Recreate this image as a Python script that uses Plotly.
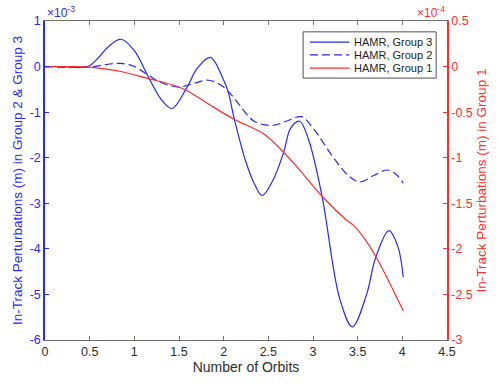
import plotly.graph_objects as go

# Orbit count for each sampled point
orbits_g3 = [0, 0.2, 0.4, 0.5, 0.6, 0.7, 0.85, 1.0, 1.15, 1.3, 1.42, 1.59, 1.7,
             1.85, 2.0, 2.05, 2.12, 2.25, 2.35, 2.43, 2.55, 2.67, 2.75, 2.85,
             2.95, 3.1, 3.3, 3.44, 3.6, 3.7, 3.85, 3.95, 4.01]
# Group 3 in-track perturbation, units of 1e-3 m
group3 = [0, 0, -0.02, 0.02, 0.2, 0.42, 0.6, 0.35, -0.2, -0.72, -0.92, -0.45,
          -0.05, 0.2, -0.3, -0.55, -1.16, -2.1, -2.6, -2.83, -2.5, -1.89,
          -1.35, -1.2, -1.6, -2.83, -5.1, -5.71, -5.0, -4.2, -3.6, -3.95, -4.62]

orbits_g2 = [0, 0.4, 0.55, 0.7, 0.85, 1.0, 1.15, 1.3, 1.5, 1.65, 1.83, 2.0,
             2.16, 2.34, 2.55, 2.7, 2.87, 3.0, 3.23, 3.4, 3.52, 3.7, 3.83,
             3.95, 4.01]
# Group 2 in-track perturbation, units of 1e-3 m
group2 = [0, -0.02, 0.0, 0.05, 0.07, 0.0, -0.18, -0.35, -0.45, -0.38, -0.3,
          -0.45, -0.8, -1.2, -1.29, -1.2, -1.1, -1.35, -2.0, -2.4, -2.53,
          -2.37, -2.27, -2.4, -2.56]

orbits_g1 = [0, 0.3, 0.5, 0.7, 0.85, 1.15, 1.46, 1.6, 1.86, 2.12, 2.45, 2.67,
             2.82, 3.1, 3.37, 3.45, 3.6, 3.74, 4.01]
# Group 1 in-track perturbation, units of 1e-4 m
group1 = [0, 0, -0.005, -0.03, -0.054, -0.13, -0.21, -0.27, -0.43, -0.58,
          -0.74, -0.94, -1.1, -1.42, -1.68, -1.74, -1.92, -2.15, -2.68]

series_names = ["HAMR, Group 3", "HAMR, Group 2", "HAMR, Group 1"]

x_ticks = [0, 0.5, 1, 1.5, 2, 2.5, 3, 3.5, 4, 4.5]
x_tick_text = ["0", "0.5", "1", "1.5", "2", "2.5", "3", "3.5", "4", "4.5"]
left_ticks = [1, 0, -1, -2, -3, -4, -5, -6]
left_tick_text = ["1", "0", "-1", "-2", "-3", "-4", "-5", "-6"]
right_ticks = [0.5, 0, -0.5, -1, -1.5, -2, -2.5, -3]
right_tick_text = ["0.5", "0", "-0.5", "-1", "-1.5", "-2", "-2.5", "-3"]

BLUE = "rgb(40,40,255)"
RED = "rgb(255,45,45)"
GRAY = "rgb(110,110,110)"
DARK = "rgb(45,45,45)"
FONT = "Liberation Sans, Arial, sans-serif"

line_styles = [
    dict(color=BLUE, width=1.2, dash="solid"),
    dict(color=BLUE, width=1.2, dash="8px,4px"),
    dict(color=RED, width=1.2, dash="solid"),
]

fig = go.Figure()
fig.add_trace(go.Scatter(x=orbits_g3, y=group3, name=series_names[0], mode="lines",
                         line=dict(**line_styles[0], shape="spline", smoothing=1.0)))
fig.add_trace(go.Scatter(x=orbits_g2, y=group2, name=series_names[1], mode="lines",
                         line=dict(**line_styles[1], shape="spline", smoothing=1.0)))
fig.add_trace(go.Scatter(x=orbits_g1, y=group1, name=series_names[2], mode="lines",
                         yaxis="y2",
                         line=dict(**line_styles[2], shape="spline", smoothing=1.0)))

# Boxed legend in the upper right corner of the axes (paper coordinates)
box_x0, box_x1, box_y0, box_y1 = 0.642, 0.973, 0.821, 0.966
row_y = [0.934, 0.894, 0.852]
key_x0, key_x1, label_x = 0.659, 0.757, 0.763

shapes = [dict(type="rect", xref="paper", yref="paper", x0=box_x0, x1=box_x1,
               y0=box_y0, y1=box_y1, line=dict(color="rgb(80,80,80)", width=1),
               fillcolor="white", layer="above")]
annotations = []
for name, style, yy in zip(series_names, line_styles, row_y):
    shapes.append(dict(type="line", xref="paper", yref="paper", x0=key_x0, x1=key_x1,
                       y0=yy, y1=yy, layer="above",
                       line=dict(color=style["color"], width=1.2, dash=style["dash"])))
    annotations.append(dict(text=name, xref="paper", yref="paper", x=label_x, y=yy,
                            xanchor="left", yanchor="middle", showarrow=False,
                            font=dict(size=11, color="rgb(30,30,30)")))

# Axis scale factors
annotations += [
    dict(text="\u00d710<sup>-3</sup>", xref="paper", yref="paper", x=0.0, y=1.0,
         xanchor="left", yanchor="bottom", showarrow=False, yshift=-1,
         font=dict(size=12, color=BLUE)),
    dict(text="\u00d710<sup>-4</sup>", xref="paper", yref="paper", x=1.0, y=1.0,
         xanchor="right", yanchor="bottom", showarrow=False, yshift=-1,
         font=dict(size=12, color=RED)),
]

fig.update_layout(
    width=499, height=385,
    margin=dict(l=44.5, r=47, t=20.7, b=42.3),
    paper_bgcolor="white", plot_bgcolor="white",
    font=dict(family=FONT, size=12, color=DARK),
    showlegend=False,
    shapes=shapes,
    annotations=annotations,
    xaxis=dict(range=[0, 4.5], tickvals=x_ticks, ticktext=x_tick_text,
               ticks="inside", ticklen=4, tickcolor=GRAY, showline=True,
               linecolor=GRAY, linewidth=1, mirror="ticks", showgrid=False,
               zeroline=False, tickfont=dict(size=12.5, color=DARK),
               title=dict(text="Number of Orbits", standoff=4,
                          font=dict(size=14, color=DARK))),
    yaxis=dict(range=[-6, 1], tickvals=left_ticks, ticktext=left_tick_text,
               ticks="inside", ticklen=4, tickcolor=BLUE, showline=True,
               linecolor=BLUE, linewidth=1.5, showgrid=False, zeroline=False,
               tickfont=dict(size=12.5, color=BLUE),
               title=dict(text="In-Track Perturbations (m) in Group 2 & Group 3",
                          standoff=4, font=dict(size=13.5, color=BLUE))),
    yaxis2=dict(range=[-3, 0.5], tickvals=right_ticks, ticktext=right_tick_text,
                overlaying="y", side="right", ticks="inside", ticklen=4,
                tickcolor=RED, showline=True, linecolor=RED, linewidth=1.5,
                showgrid=False, zeroline=False,
                tickfont=dict(size=12.5, color=RED),
                title=dict(text="In-Track Perturbations (m) in Group 1",
                           standoff=5, font=dict(size=13.5, color=RED))),
)

fig.write_html("out.html")
